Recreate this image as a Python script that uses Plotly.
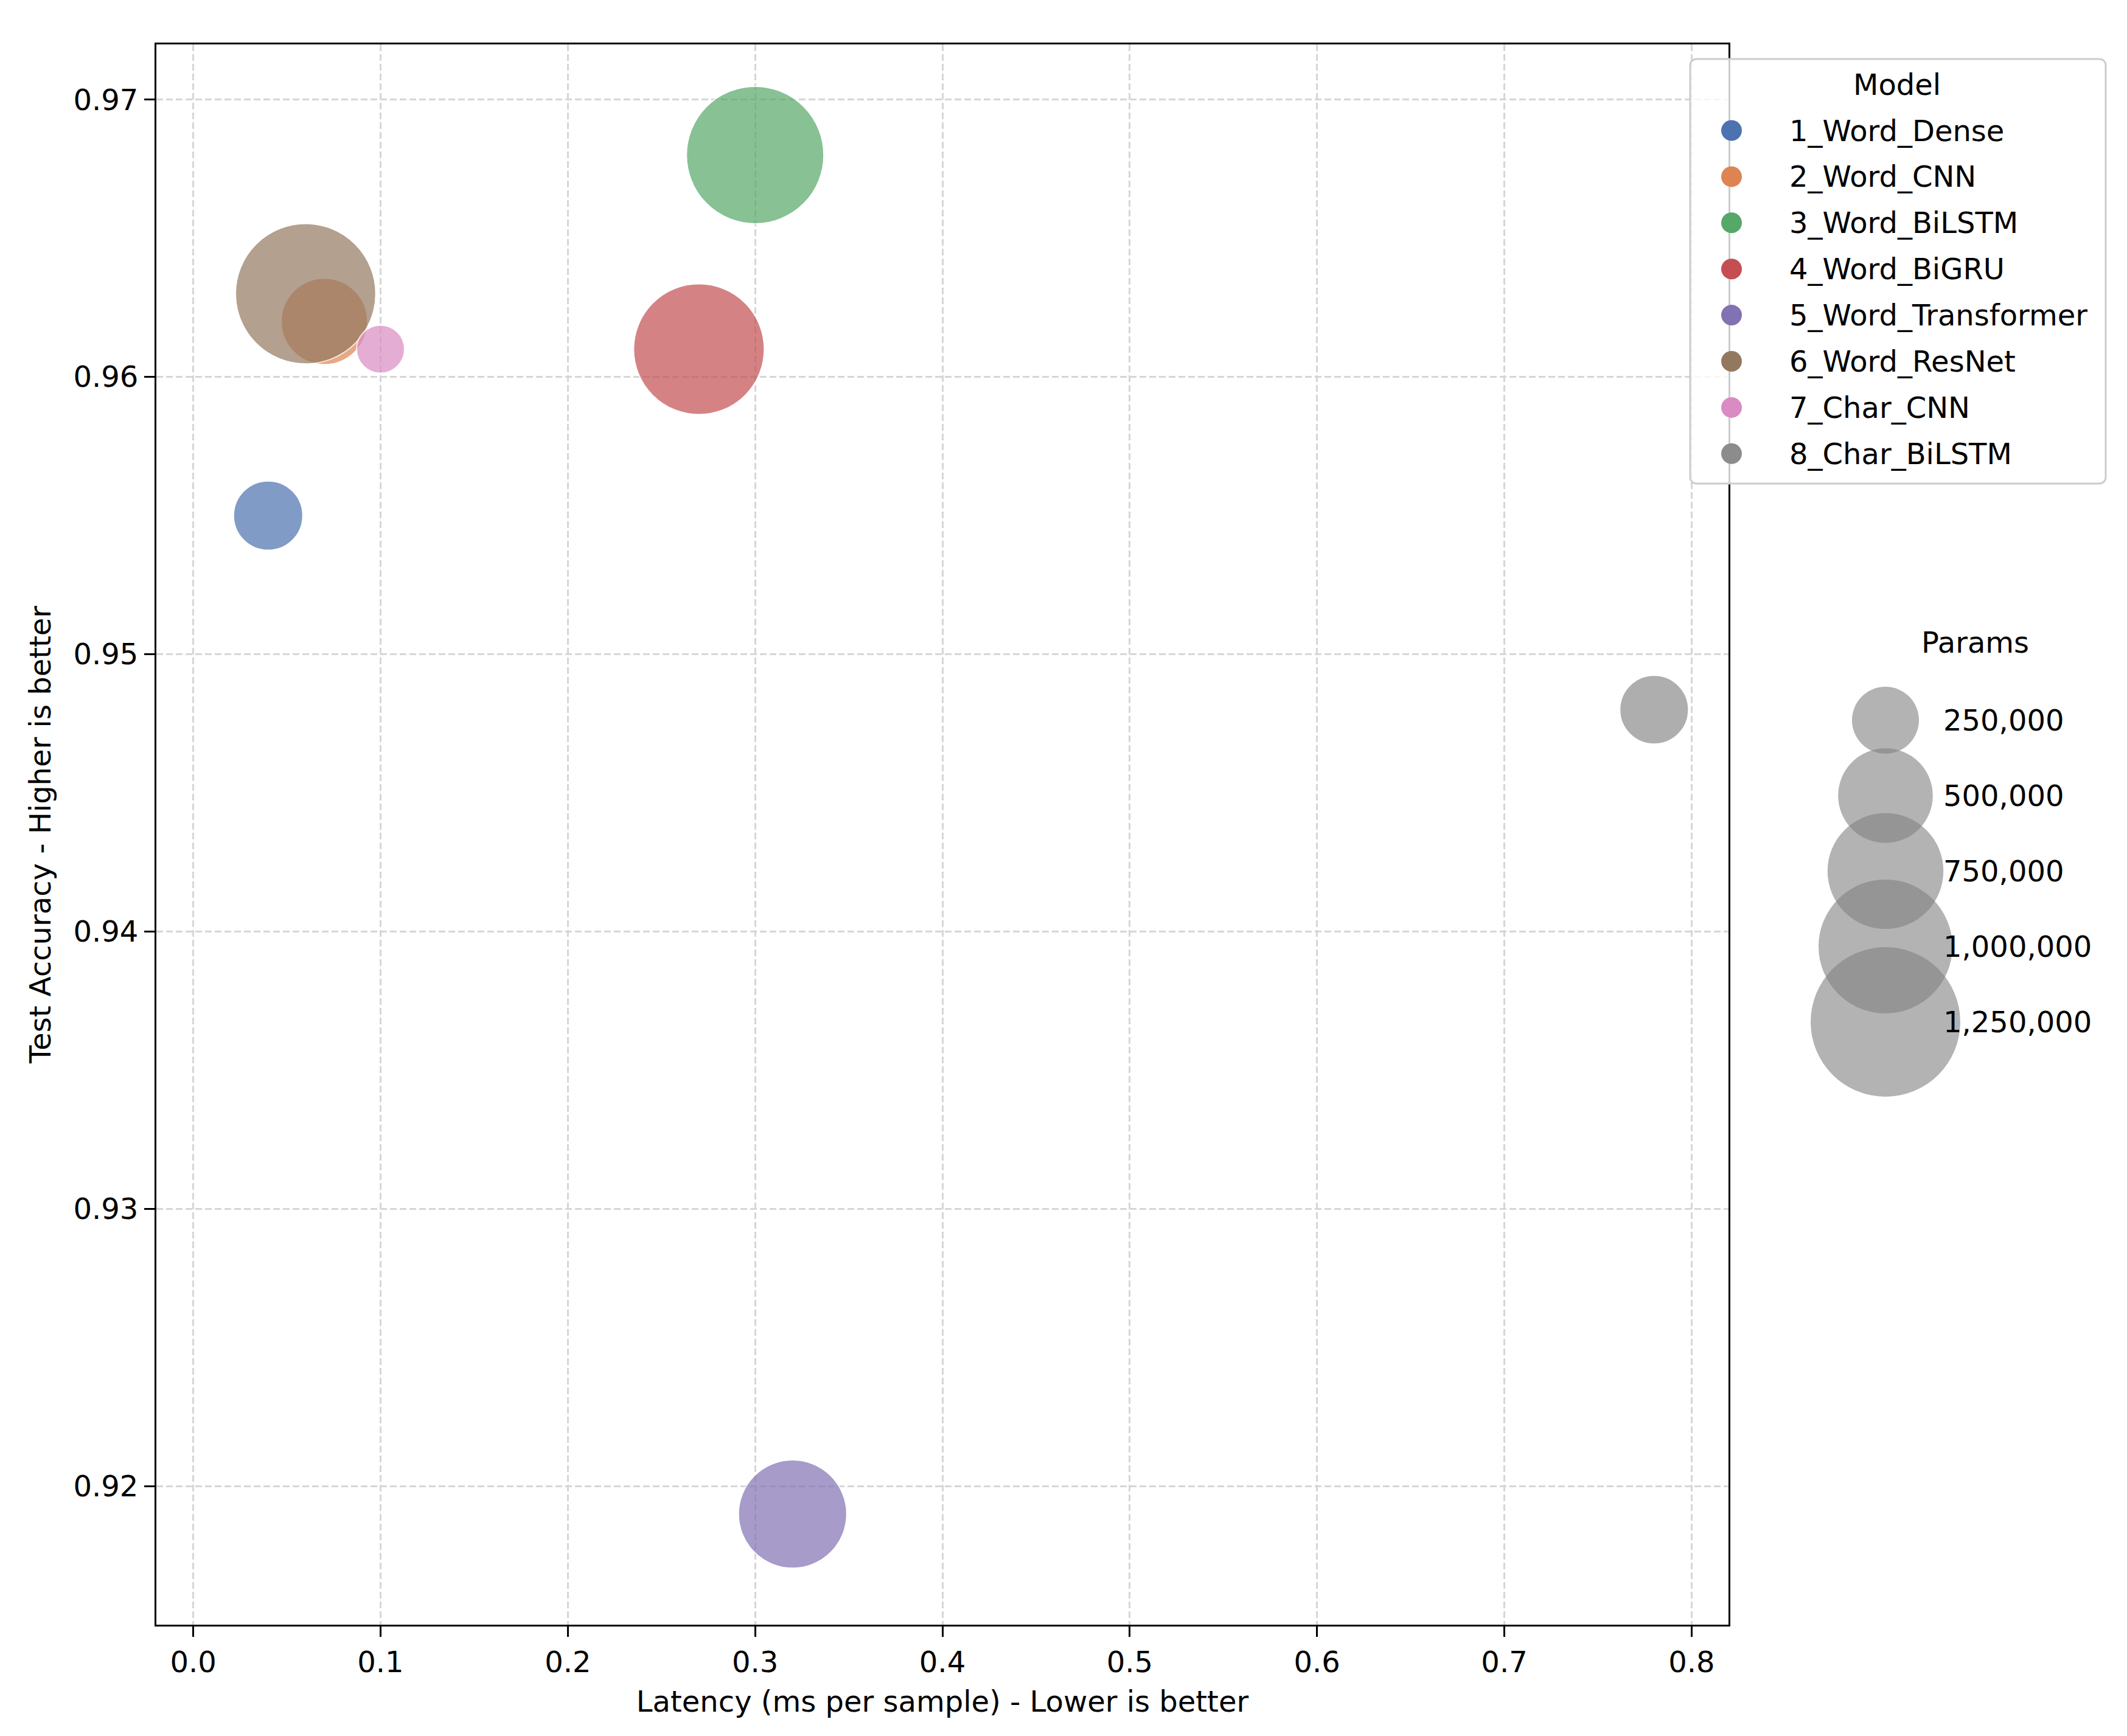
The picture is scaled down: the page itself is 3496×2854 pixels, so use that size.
import numpy as np
import plotly.graph_objects as go

# ---------------- data ----------------
models = ["1_Word_Dense", "2_Word_CNN", "3_Word_BiLSTM", "4_Word_BiGRU",
          "5_Word_Transformer", "6_Word_ResNet", "7_Char_CNN", "8_Char_BiLSTM"]
latency = [0.04, 0.07, 0.30, 0.27, 0.32, 0.06, 0.10, 0.78]
accuracy = [0.955, 0.962, 0.968, 0.961, 0.919, 0.963, 0.961, 0.948]
params = [268000, 417000, 1055000, 955000, 655000, 1100000, 129000, 264000]
colors = ["#4C72B0", "#DD8452", "#55A868", "#C44E52",
          "#8172B3", "#937860", "#DA8BC3", "#8C8C8C"]
size_legend_values = [250000, 500000, 750000, 1000000, 1250000]
x_ticks = [0.0, 0.1, 0.2, 0.3, 0.4, 0.5, 0.6, 0.7, 0.8]
y_ticks = [0.92, 0.93, 0.94, 0.95, 0.96, 0.97]

# ---------------- layout constants (pixels) ----------------
W, H = 3496, 2854
ML, MT, MB, MR = 257, 73, 183, 0
PLOT_RIGHT = 2841
paper_w = W - ML - MR
FONT = "DejaVu Sans"
FS = 48
# plotly area mode: diameter = sqrt(2 * value / sizeref); 250,000 -> 110 px
SIZEREF = 2 * 250000 / 110 ** 2

fig = go.Figure()

# ---------------- bubbles ----------------
for m, xv, yv, pv, c in zip(models, latency, accuracy, params, colors):
    fig.add_trace(go.Scatter(
        x=[xv], y=[yv], mode="markers", name=m,
        marker=dict(size=[pv], sizemode="area", sizeref=SIZEREF, color=c,
                    opacity=0.7, line=dict(color="white", width=2)),
        xaxis="x", yaxis="y", showlegend=False,
        hovertemplate=m + "<br>Latency=%{x}<br>Accuracy=%{y}<extra></extra>",
    ))

# ---------------- overlay (pixel-space) subplot for legends ----------------
# Model legend box (rounded rectangle)
bx0, by0, bx1, by1, r = 2778, 97, 3461, 795, 10
t = np.linspace(0, np.pi / 2, 8)
px, py = [], []
for cx, cy, a0 in [(bx1 - r, by0 + r, -np.pi / 2), (bx1 - r, by1 - r, 0),
                   (bx0 + r, by1 - r, np.pi / 2), (bx0 + r, by0 + r, np.pi)]:
    px += list(cx + r * np.cos(a0 + t))
    py += list(cy + r * np.sin(a0 + t))
px.append(px[0]); py.append(py[0])
fig.add_trace(go.Scatter(
    x=px, y=py, mode="lines", fill="toself",
    fillcolor="rgba(255,255,255,0.8)", line=dict(color="#cccccc", width=3),
    xaxis="x2", yaxis="y2", showlegend=False, hoverinfo="skip"))

item_y0, item_dy = 214.5, 75.9
leg_y = [item_y0 + i * item_dy for i in range(len(models))]
fig.add_trace(go.Scatter(
    x=[2846] * len(models), y=leg_y, mode="markers",
    marker=dict(size=34, color=colors, line=dict(width=0)),
    xaxis="x2", yaxis="y2", showlegend=False, hoverinfo="skip"))

annotations = []
annotations.append(dict(text="Model", x=3118, y=139, xref="x2", yref="y2",
                        xanchor="center", yanchor="middle", showarrow=False,
                        font=dict(family=FONT, size=FS, color="black")))
for m, yy in zip(models, leg_y):
    annotations.append(dict(text=m, x=2939, y=yy, xref="x2", yref="y2",
                            xanchor="left", yanchor="middle", showarrow=False,
                            font=dict(family=FONT, size=FS, color="black")))

# Size legend
size_y0, size_dy = 1184, 124
size_y = [size_y0 + i * size_dy for i in range(len(size_legend_values))]
annotations.append(dict(text="Params", x=3246, y=1056, xref="x2", yref="y2",
                        xanchor="center", yanchor="middle", showarrow=False,
                        font=dict(family=FONT, size=FS, color="black")))
for v, yy in zip(size_legend_values, size_y):
    annotations.append(dict(text=f"{v:,}", x=3192, y=yy, xref="x2", yref="y2",
                            xanchor="left", yanchor="middle", showarrow=False,
                            font=dict(family=FONT, size=FS, color="black")))
fig.add_trace(go.Scatter(
    x=[3099] * len(size_legend_values), y=size_y, mode="markers",
    marker=dict(size=size_legend_values, sizemode="area", sizeref=SIZEREF,
                color="rgb(128,128,128)", opacity=0.6, line=dict(width=0)),
    xaxis="x2", yaxis="y2", showlegend=False, hoverinfo="skip"))

# ---------------- axes ----------------
axis_common = dict(
    showline=True, mirror=True, linecolor="black", linewidth=3.3,
    ticks="outside", ticklen=17, tickwidth=3.3, tickcolor="black",
    showgrid=True, gridcolor="#d6d6d6", gridwidth=2.5, griddash="11px,5px",
    zeroline=False, automargin=False,
    tickfont=dict(family=FONT, size=FS, color="black"),
)
fig.update_layout(
    width=W, height=H,
    margin=dict(l=ML, r=MR, t=MT, b=MB, pad=0),
    paper_bgcolor="white", plot_bgcolor="rgba(0,0,0,0)",
    showlegend=False,
    font=dict(family=FONT, size=FS, color="black"),
    xaxis=dict(domain=[0, (PLOT_RIGHT - ML) / paper_w], range=[-0.0197, 0.8197],
               tickvals=x_ticks, ticktext=[f"{v:.1f}" for v in x_ticks],
               title=dict(text="Latency (ms per sample) - Lower is better",
                          font=dict(family=FONT, size=FS, color="black"), standoff=22),
               anchor="y", **axis_common),
    yaxis=dict(domain=[0, 1], range=[0.91501, 0.97199],
               tickvals=y_ticks, ticktext=[f"{v:.2f}" for v in y_ticks],
               title=dict(text="Test Accuracy - Higher is better",
                          font=dict(family=FONT, size=FS, color="black"), standoff=22),
               anchor="x", **axis_common),
    xaxis2=dict(domain=[0, 1], range=[ML, W - MR], visible=False, anchor="y2",
                fixedrange=True),
    yaxis2=dict(domain=[0, 1], range=[H - MB, MT], visible=False, anchor="x2",
                fixedrange=True),
    annotations=annotations,
)

fig.write_html("out.html")
